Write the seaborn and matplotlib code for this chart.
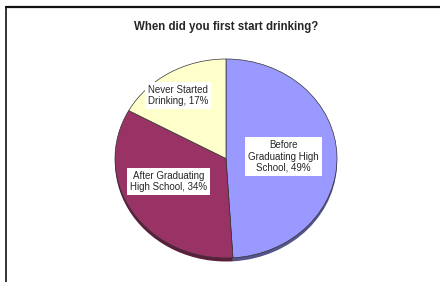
import matplotlib
matplotlib.use("Agg")
import matplotlib.pyplot as plt
import seaborn as sns
from matplotlib.lines import Line2D

# --- data ---
categories = ["Before\nGraduating High\nSchool", "After Graduating\nHigh School", "Never Started\nDrinking"]
shares = [49, 34, 17]
colors = ["#9999FF", "#993366", "#FFFFCC"]
shadow_colors = ["#55558a", "#5a1f3c", "#b0b090"]
label_pos = [(0.52, 0.02), (-0.52, -0.23), (-0.43, 0.63)]

sns.set_theme(style="white")
plt.rcParams["font.family"] = ["Liberation Sans", "DejaVu Sans"]

W, H = 440, 282
fig = plt.figure(figsize=(W / 100, H / 100), dpi=100)
fig.patch.set_facecolor("white")

# frame lines (top + left)
fig.add_artist(Line2D([6 / W, 1], [1 - 7 / H, 1 - 7 / H], color="#111111", lw=1.6))
fig.add_artist(Line2D([6 / W, 6 / W], [0, 1 - 7 / H], color="#111111", lw=1.2))

fig.text(226 / W, 1 - 27 / H, "When did you first start drinking?", ha="center", va="center",
         fontsize=8.3, fontweight="bold")

# pie axes (slightly elliptical, like the 3D excel pie)
ax = fig.add_axes([115 / W, (H - 262) / H, 222 / W, 203 / H])
ax.set_aspect("auto")

# shadow layer
ax.pie(shares, colors=shadow_colors, startangle=90, counterclock=False,
       center=(0, -0.035), wedgeprops=dict(linewidth=0))
wedges, _ = ax.pie(shares, colors=colors, startangle=90, counterclock=False,
                   wedgeprops=dict(edgecolor="#333333", linewidth=0.5))

for (x, y), cat, v in zip(label_pos, categories, shares):
    ax.text(x, y, f"{cat}, {v}%", ha="center", va="center", fontsize=7,
            linespacing=1.15,
            bbox=dict(boxstyle="square,pad=0.3", facecolor="white", edgecolor="none"))

ax.set_xlim(-1, 1)
ax.set_ylim(-1.04, 1)
ax.set_aspect("auto")
ax.axis("off")

fig.savefig("out.png", dpi=100, facecolor="white")
